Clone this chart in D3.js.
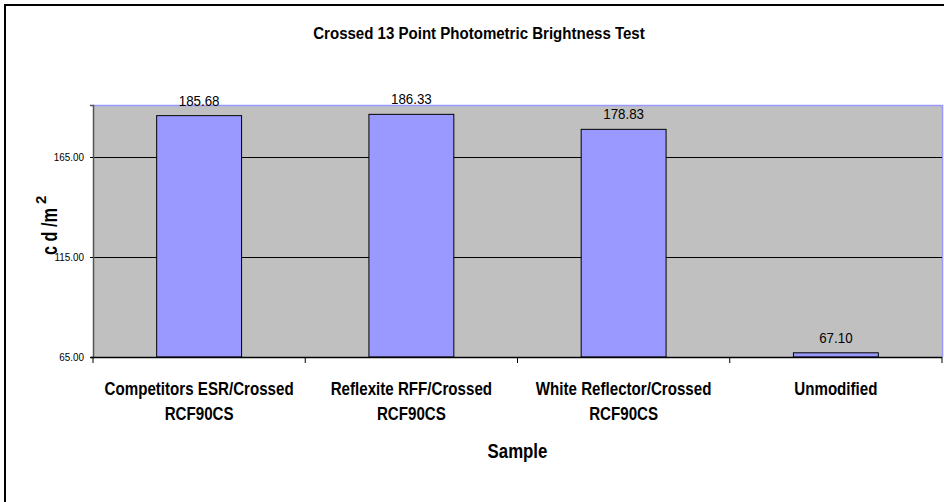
<!DOCTYPE html>
<html>
<head>
<meta charset="utf-8">
<script src="https://cdn.jsdelivr.net/npm/d3@7.9.0/dist/d3.min.js"></script>
<style>
  body { margin: 0; background: #fff; }
  svg { display: block; }
  text { font-family: "Liberation Sans", Arial, sans-serif; fill: #000; }
</style>
</head>
<body>
<svg id="chart" width="944" height="502"></svg>
<script>
// Chart data
const categories = ['Competitors ESR/Crossed RCF90CS', 'Reflexite RFF/Crossed RCF90CS', 'White Reflector/Crossed RCF90CS', 'Unmodified'];
const categoryLines = [['Competitors ESR/Crossed', 'RCF90CS'], ['Reflexite RFF/Crossed', 'RCF90CS'], ['White Reflector/Crossed', 'RCF90CS'], ['Unmodified']];
const values = [185.68, 186.33, 178.83, 67.10];
const yTicks = [65, 115, 165];

const svg = d3.select('#chart');

// the original uses a narrow face; squeeze glyphs horizontally
function condense(sel, k) {
  sel.each(function () {
    const w = this.getComputedTextLength();
    d3.select(this).attr('textLength', w * k).attr('lengthAdjust', 'spacingAndGlyphs');
  });
}

// outer frame (runs off the right and bottom edges)
svg.append('rect')
  .attr('x', 5).attr('y', 5)
  .attr('width', 960).attr('height', 520)
  .attr('fill', 'none').attr('stroke', '#000').attr('stroke-width', 2);

const plot = { left: 93, right: 942, top: 105, bottom: 357 };

const x = d3.scaleBand()
  .domain(categories)
  .range([plot.left, plot.right])
  .paddingInner(0.6)
  .paddingOuter(0.3);

const y = d3.scaleLinear()
  .domain([65, 191])
  .range([plot.bottom, plot.top]);

// plot area background
svg.append('rect')
  .attr('x', plot.left).attr('y', plot.top)
  .attr('width', plot.right - plot.left).attr('height', plot.bottom - plot.top)
  .attr('fill', '#c0c0c0');

// top and right border of the plot area
svg.append('path')
  .attr('d', `M${plot.left},${plot.top + 0.5}H${plot.right + 0.5}V${plot.bottom}`)
  .attr('fill', 'none').attr('stroke', '#9999ff').attr('stroke-width', 1.5);

// gridlines
svg.append('g')
  .selectAll('line')
  .data(yTicks.filter(d => d > 65))
  .join('line')
  .attr('x1', plot.left).attr('x2', plot.right)
  .attr('y1', d => Math.round(y(d)) + 0.5).attr('y2', d => Math.round(y(d)) + 0.5)
  .attr('stroke', '#000').attr('stroke-width', 1);

// bars
svg.append('g')
  .selectAll('rect')
  .data(values)
  .join('rect')
  .attr('x', (d, i) => x(categories[i]))
  .attr('y', d => y(d))
  .attr('width', x.bandwidth())
  .attr('height', d => plot.bottom - y(d))
  .attr('fill', '#9999ff')
  .attr('stroke', '#000')
  .attr('stroke-width', 1);

// value labels
svg.append('g')
  .selectAll('text')
  .data(values)
  .join('text')
  .attr('x', (d, i) => x(categories[i]) + x.bandwidth() / 2)
  .attr('y', d => y(d) - 10)
  .attr('text-anchor', 'middle')
  .style('font-size', '15px')
  .text(d => d.toFixed(2))
  .call(condense, 0.89);

// y axis
const yAxis = svg.append('g')
  .attr('transform', `translate(${plot.left},0)`)
  .call(d3.axisLeft(y).tickValues(yTicks).tickFormat(d3.format('.2f')).tickSize(3).tickPadding(6));
yAxis.select('.domain').attr('stroke', '#555').attr('stroke-width', 1.5);
yAxis.selectAll('.tick line').attr('stroke', '#000');
yAxis.selectAll('.tick text')
  .style('font-family', '"Liberation Sans", Arial, sans-serif')
  .style('font-size', '11px')
  .call(condense, 0.9);

// x axis
const xAxis = svg.append('g')
  .attr('transform', `translate(0,${plot.bottom})`);
xAxis.append('line')
  .attr('x1', plot.left - 2).attr('x2', plot.right)
  .attr('y1', 0.5).attr('y2', 0.5)
  .attr('stroke', '#000').attr('stroke-width', 1.5);
const step = x.step();
const boundaries = d3.range(categories.length + 1).map(i => plot.left + i * step);
xAxis.selectAll('.cat-tick')
  .data(boundaries)
  .join('line')
  .attr('class', 'cat-tick')
  .attr('x1', d => d).attr('x2', d => d)
  .attr('y1', 0).attr('y2', 6)
  .attr('stroke', '#000');

// category labels
const catLabels = svg.append('g')
  .selectAll('text')
  .data(categories)
  .join('text')
  .attr('text-anchor', 'middle')
  .style('font-weight', 'bold')
  .style('font-size', '18px');
catLabels.each(function (d, i) {
  const cx = x(d) + x.bandwidth() / 2;
  d3.select(this).selectAll('tspan')
    .data(categoryLines[i])
    .join('tspan')
    .attr('x', cx)
    .attr('y', (t, j) => 395 + j * 25)
    .text(t => t)
    .call(condense, 0.84);
});

// axis titles
svg.append('text')
  .attr('x', (plot.left + plot.right) / 2)
  .attr('y', 458)
  .attr('text-anchor', 'middle')
  .style('font-weight', 'bold')
  .style('font-size', '21px')
  .text('Sample')
  .call(condense, 0.8);

const yTitle = svg.append('text')
  .attr('transform', 'translate(57,255) rotate(-90)')
  .attr('text-anchor', 'start')
  .style('font-weight', 'bold')
  .style('font-size', '22px');
yTitle.append('tspan').text('c d /m').call(condense, 0.74);
yTitle.append('tspan').attr('dx', 4).attr('dy', -11).style('font-size', '15px').text('2');

// chart title
svg.append('text')
  .attr('x', 479)
  .attr('y', 39)
  .attr('text-anchor', 'middle')
  .style('font-weight', 'bold')
  .style('font-size', '16px')
  .text('Crossed 13 Point Photometric Brightness Test')
  .call(condense, 0.94);
</script>
</body>
</html>
